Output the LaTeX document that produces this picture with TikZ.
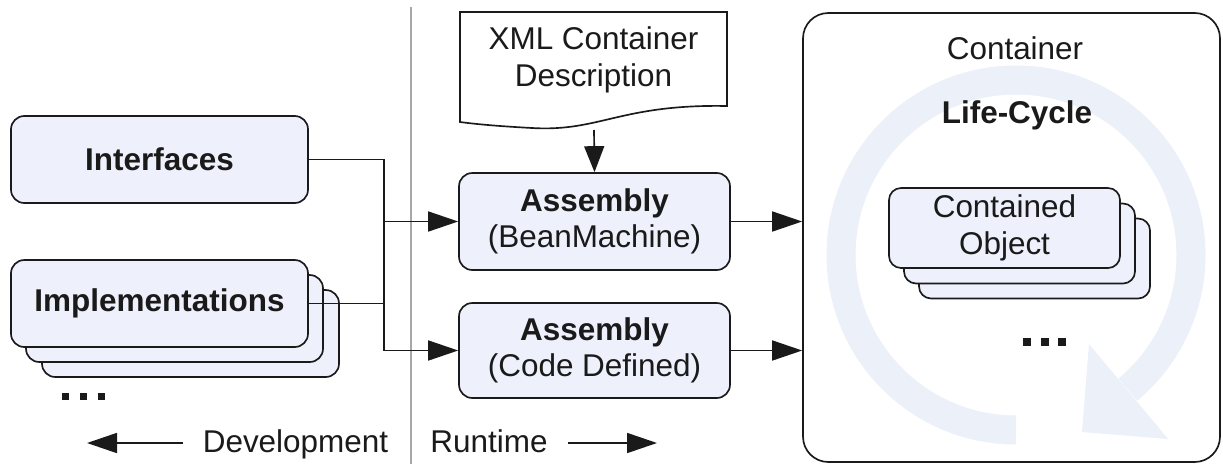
\documentclass[tikz,border=0pt]{standalone}
\usepackage{fontspec}
\setmainfont{Liberation Sans}
\usetikzlibrary{arrows.meta}
\definecolor{boxfill}{HTML}{EEF0FB}
\definecolor{ringfill}{HTML}{EBF0F9}
\definecolor{ink}{HTML}{1A1A1A}
\definecolor{sepgray}{HTML}{A8A8A8}

\begin{document}
\begin{tikzpicture}[x=0.75pt,y=-0.75pt,
  every node/.style={font=\fontsize{23.6}{27.5}\selectfont, text=ink, align=center, inner sep=0pt},
  box/.style 2 args={draw=ink, fill=boxfill, line width=1.25pt, rounded corners=10pt,
    minimum width=#1*0.75pt, minimum height=#2*0.75pt},
  conn/.style={draw=ink, line width=1.25pt},
  arr/.style={conn, -{Triangle[length=22.5pt,width=15pt]}},
  varr/.style={conn, -{Triangle[length=19.5pt,width=15pt]}},
  legend/.style={text height=17pt, text depth=0pt, inner xsep=15pt},
  dot/.style={fill=ink},
]
\useasboundingbox (0,0) rectangle (1223,464);

% development / runtime divider
\draw[sepgray, line width=0.9pt] (411,7) -- (411,464);

% container with its life-cycle ring
\node[draw=ink, fill=white, line width=1.25pt, rounded corners=19pt,
      minimum width=417*0.75pt, minimum height=449*0.75pt] (cont) at (1011.5,237.5) {};
\draw[ringfill, line width=21.75pt] (1016,430) arc[start angle=90, end angle=410.3, radius=175];
\fill[ringfill] (1089,344) -- (1168,439) -- (1082,432) -- cycle;
\node (ctitle) at (1015,48) {Container};
\node (life) at (1017,115) {\bfseries Life-Cycle};

% contained objects (stacked)
\node[box={231}{80}, rounded corners=9pt] (obj3) at (1034.5,258.5) {};
\node[box={231}{80}, rounded corners=9pt] (obj2) at (1019.5,243.5) {};
\node[box={231}{80}, rounded corners=9pt] (obj) at (1004.5,228) {Contained\\Object};
\fill[dot] (1023,338) rectangle (1031,346);
\fill[dot] (1041,338) rectangle (1049,346);
\fill[dot] (1058,338) rectangle (1066,346);

% development side
\node[box={297}{87}] (int) at (159.5,159.5) {\bfseries Interfaces};
\node[box={297}{87}] (imp3) at (190.5,333.5) {};
\node[box={297}{87}] (imp2) at (174.5,318.5) {};
\node[box={297}{87}] (imp) at (159.5,303.5) {\bfseries Implementations};
\fill[dot] (62,393) rectangle (69,400);
\fill[dot] (80,393) rectangle (87,400);
\fill[dot] (98,393) rectangle (105,400);

% runtime side
\draw[conn, fill=white] (460,12) -- (727,12) -- (727,106)
  .. controls (620,104) and (600,132) .. (532,128)
  .. controls (495,126) and (475,124) .. (460,122) -- cycle;
\node (xml) at (593.5,60) {XML Container\\Description};
\coordinate (xmlbot) at (594,130);

\node[box={271}{97}] (asm1) at (594.5,221.5) {\bfseries Assembly\\(BeanMachine)};
\node[box={271}{95}] (asm2) at (594.5,350.5) {\bfseries Assembly\\(Code Defined)};

% connectors
\coordinate (jA) at (384,221.5);
\coordinate (jB) at (384,350.5);
\draw[conn] (int.east) -| (jB);
\draw[conn] (imp.east) -- (imp.east -| jA);
\draw[arr] (jA) -- (asm1.west);
\draw[arr] (jB) -- (asm2.west);
\draw[varr] (xmlbot) -- (asm1.north);
\draw[arr] (asm1.east) -- (asm1.east -| cont.west);
\draw[arr] (asm2.east) -- (asm2.east -| cont.west);

% legend
\node[legend, anchor=base] (dev) at (295.5,452) {Development};
\node[legend, anchor=base] (run) at (489,452) {Runtime};
\coordinate (devtip) at (87,443);
\coordinate (runtip) at (657,443);
\draw[arr] (dev.west |- devtip) -- (devtip);
\draw[arr] (run.east |- runtip) -- (runtip);
\end{tikzpicture}
\end{document}
